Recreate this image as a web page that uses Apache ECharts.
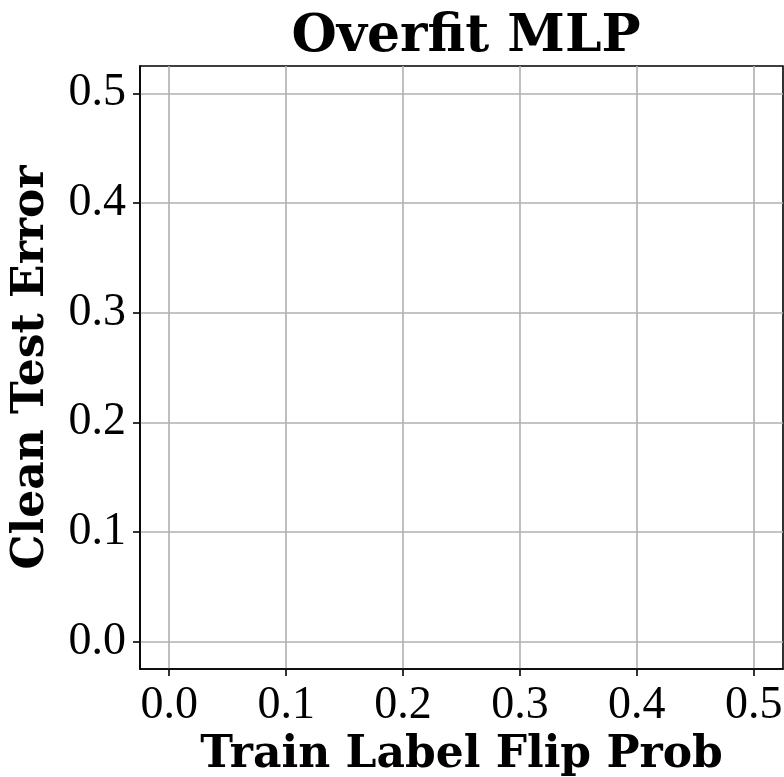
<!DOCTYPE html>
<html>
<head>
<meta charset="utf-8">
<script src="https://cdn.jsdelivr.net/npm/echarts@6/dist/echarts.min.js"></script>
<style>
  html, body { margin: 0; padding: 0; background: #fff; }
  #chart { width: 784px; height: 777px; }
</style>
</head>
<body>
<div id="chart"></div>
<script>
// Chart labels and tick positions
const titleText = 'Overfit MLP';
const xAxisName = 'Train Label Flip Prob';
const yAxisName = 'Clean Test Error';
const xTicks = [0.0, 0.1, 0.2, 0.3, 0.4, 0.5];
const yTicks = [0.0, 0.1, 0.2, 0.3, 0.4, 0.5];
// No measurements were plotted in this panel
const flipProb = [];
const testError = [];

const serif = '"Liberation Serif", "DejaVu Serif", serif';
const boldSerif = '"DejaVu Serif", "Liberation Serif", serif';
const chart = echarts.init(document.getElementById('chart'), null, { renderer: 'canvas' });

function axisCommon(ticks) {
  return {
    type: 'value',
    min: -0.025,
    max: 0.525,
    axisLine: { show: true, onZero: false, lineStyle: { color: '#000', width: 1.6 } },
    axisTick: { show: true, inside: false, length: 7, customValues: ticks, lineStyle: { color: '#000', width: 1.6 } },
    axisLabel: {
      customValues: ticks,
      formatter: v => v.toFixed(1),
      fontFamily: serif,
      fontSize: 46,
      color: '#000',
      margin: 14
    },
    splitLine: { show: true, lineStyle: { color: '#b0b0b0', width: 1.6 } },
    nameTextStyle: { fontFamily: boldSerif, fontWeight: 'bold', fontSize: 44, color: '#000' },
    nameLocation: 'middle'
  };
}

chart.setOption({
  animation: false,
  backgroundColor: '#fff',
  title: {
    text: titleText,
    left: 461,
    textAlign: 'center',
    top: 6,
    textStyle: { fontFamily: boldSerif, fontWeight: 'bold', fontSize: 52, color: '#000' }
  },
  grid: {
    left: 140, right: 1, top: 66, bottom: 108,
    show: true, borderColor: '#000', borderWidth: 1.6,
    containLabel: false,
    outerBoundsMode: 'none'
  },
  xAxis: Object.assign(axisCommon(xTicks), { name: xAxisName, nameGap: 60 }),
  yAxis: Object.assign(axisCommon(yTicks), { name: yAxisName, nameGap: 86 }),
  series: [{
    type: 'line',
    data: flipProb.map((x, i) => [x, testError[i]])
  }]
});
</script>
</body>
</html>
